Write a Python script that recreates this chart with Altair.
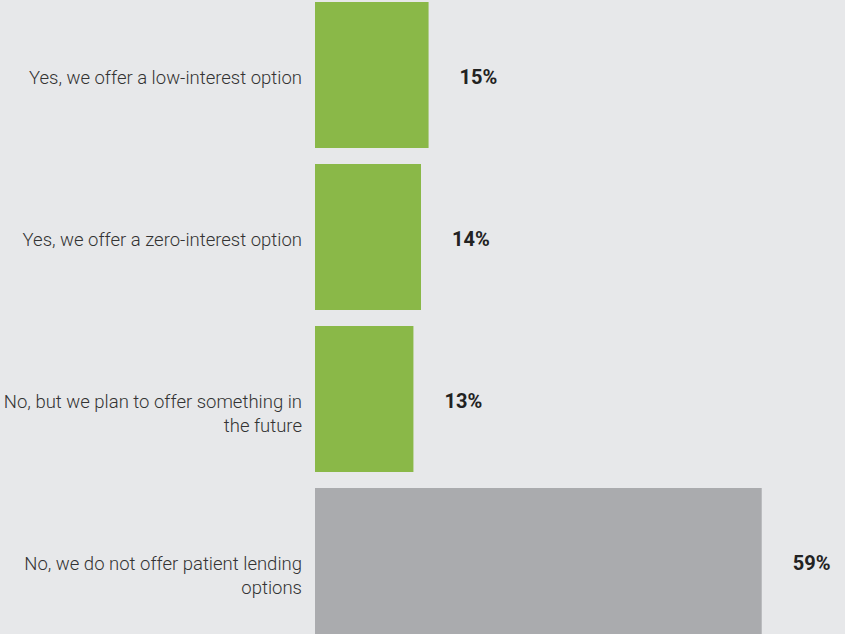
import altair as alt
import pandas as pd

categories = [
    "Yes, we offer a low-interest option",
    "Yes, we offer a zero-interest option",
    "No, but we plan to offer something in\nthe future",
    "No, we do not offer patient lending\noptions",
]
values = [15, 14, 13, 59]
labels = ["15%", "14%", "13%", "59%"]
groups = ["offer", "offer", "offer", "none"]

df = pd.DataFrame({"cat": categories, "value": values, "label": labels, "group": groups})

y = alt.Y("cat:N", sort=categories, axis=None,
          scale=alt.Scale(paddingInner=0.0988, paddingOuter=0.0062, align=1))

bars = alt.Chart(df).mark_bar().encode(
    x=alt.X("value:Q", axis=None, scale=alt.Scale(domain=[0, 70])),
    y=y,
    color=alt.Color("group:N", legend=None,
                    scale=alt.Scale(domain=["offer", "none"], range=["#8ab848", "#aaabae"])),
)

vals = alt.Chart(df).mark_text(
    align="left", baseline="middle", dx=31, dy=3,
    font="Roboto", fontWeight="bold", fontSize=20, color="#222222",
).encode(x="value:Q", y=y, text="label:N")

cats = alt.Chart(df).mark_text(
    align="right", baseline="middle", dy=3, lineBreak="\n", lineHeight=24,
    font="Roboto", fontWeight=300, fontSize=18.5, color="#333333",
).encode(x=alt.value(-13), y=y, text="cat:N")

chart = alt.layer(bars, vals, cats).properties(
    width=530, height=634,
    padding={"left": 315, "top": 0, "right": 0, "bottom": 0},
    autosize=alt.AutoSizeParams(type="none"),
    background="#e7e8ea",
).configure_view(stroke=None)

chart.save("out.html", embed_options={"renderer": "svg", "actions": False})
